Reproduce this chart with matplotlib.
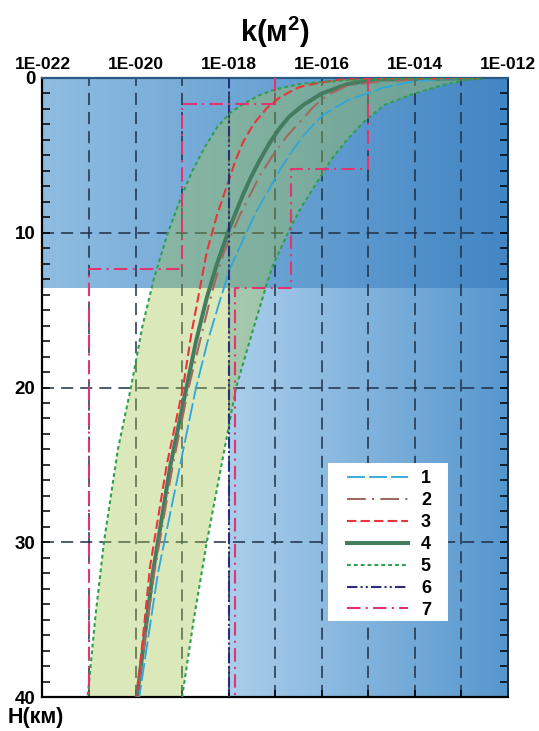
import numpy as np
import matplotlib.pyplot as plt
from matplotlib.patches import Rectangle

# шрифт: Arial-подобный, жирный
plt.rcParams['font.family'] = ['Liberation Sans', 'DejaVu Sans']
plt.rcParams['font.weight'] = 'bold'
plt.rcParams['mathtext.fontset'] = 'custom'
plt.rcParams['mathtext.rm'] = 'Liberation Sans:bold'
plt.rcParams['mathtext.default'] = 'rm'

# глубина H (км) и lg k (k в м^2)
h1 = [0, 0.05, 0.2, 0.6, 1.45, 2.4, 3.3, 4.4, 5.7, 7.0, 8.7, 9.6, 12.3, 14.4, 17, 20, 26, 32, 40]
lg1 = [-12.6, -13.3, -14.0, -14.65, -15.45, -15.98, -16.27, -16.56, -16.85, -17.1,
       -17.42, -17.56, -17.97, -18.19, -18.45, -18.7, -19.11, -19.52, -19.92]

h2 = [0, 0.05, 0.2, 0.5, 1.1, 1.87, 3.0, 3.8, 5.0, 6.3, 8.85, 11.24, 13.2, 15.2, 20, 25, 32, 40]
lg2 = [-12.6, -13.6, -14.7, -15.45, -15.88, -16.18, -16.52, -16.76, -17.05, -17.33,
       -17.76, -18.1, -18.3, -18.47, -18.86, -19.2, -19.6, -19.97]

h3 = [0, 0.03, 0.1, 0.45, 0.65, 1.23, 1.94, 3.0, 4.14, 5.3, 6.46, 8.85, 11.24, 13.3, 16.5, 20, 25, 31.6, 40]
lg3 = [-12.6, -14.5, -15.6, -16.32, -16.53, -16.89, -17.18, -17.47, -17.69, -17.85,
       -17.98, -18.25, -18.47, -18.6, -18.8, -18.98, -19.33, -19.69, -19.97]

h4 = [0, 0.05, 0.1, 0.4, 1.0, 1.75, 2.5, 3.3, 4.2, 5.3, 6.4, 7.6, 9.6, 12.0, 14.2, 17.0, 20.2, 25.0, 32.0, 40.0]
lg4 = [-12.6, -13.8, -14.9, -15.45, -16.0, -16.4, -16.7, -16.92, -17.12, -17.33,
       -17.52, -17.7, -17.97, -18.25, -18.47, -18.7, -18.92, -19.25, -19.63, -19.97]

# 5 - границы области (две кривые)
h5_lo = [0, 0.04, 0.13, 0.35, 0.74, 1.1, 1.7, 2.26, 3.2, 4.5, 6.0, 7.4, 9.95, 12.9, 16.0, 20.0, 24.0, 30.0, 35.0, 40.0]
lg5_lo = [-12.6, -14.0, -15.4, -16.4, -17.0, -17.33, -17.7, -17.97, -18.25, -18.52,
          -18.78, -18.98, -19.3, -19.6, -19.85, -20.1, -20.38, -20.68, -20.87, -21.03]
h5_hi = [0, 0.1, 0.45, 1.1, 1.74, 2.84, 4.0, 5.2, 6.5, 8.3, 9.7, 12.1, 13.3, 16.5, 20.0, 23.2, 30.0, 35.0, 40.0]
lg5_hi = [-12.6, -12.85, -13.4, -14.1, -14.65, -15.1, -15.46, -15.78, -16.05, -16.43,
          -16.68, -17.05, -17.18, -17.5, -17.84, -18.04, -18.47, -18.75, -19.0]

h6 = [0, 40]
lg6 = [-18, -18]

# 7 - ступенчатые границы
h7_lo = [0, 1.7, 1.7, 12.36, 12.36, 40]
lg7_lo = [-17, -17, -19, -19, -21, -21]
h7_hi = [0, 5.88, 5.88, 13.6, 13.6, 40]
lg7_hi = [-15, -15, -16.66, -16.66, -17.86, -17.86]

# зоны фона
upper_zone_depth = 13.6
lower_zone_left = -18

x_ticks = [-22, -20, -18, -16, -14, -12]
x_labels = ['1E-022', '1E-020', '1E-018', '1E-016', '1E-014', '1E-012']
y_ticks = [0, 10, 20, 30, 40]

fig = plt.figure(figsize=(5.39, 7.31), dpi=100)
ax = fig.add_axes([0.0788, 0.0465, 0.8636, 0.8468])
ax.set_xlim(-22, -12)
ax.set_ylim(40, 0)

# градиентный фон
ramp = np.linspace(0, 1, 256)[None, :, None]
up_l = np.array([143, 189, 225]) / 255
up_r = np.array([66, 134, 196]) / 255
lo_l = np.array([170, 206, 235]) / 255
lo_r = np.array([86, 150, 205]) / 255
ax.imshow(up_l + (up_r - up_l) * ramp, extent=[-22, -12, upper_zone_depth, 0],
          aspect='auto', interpolation='bilinear', zorder=0)
ax.imshow(lo_l + (lo_r - lo_l) * ramp, extent=[lower_zone_left, -12, 40, upper_zone_depth],
          aspect='auto', interpolation='bilinear', zorder=0)

# сетка
grid_kw = dict(color='#1f2f45', lw=1.1, ls=(0, (7.9, 4.6)), zorder=1)
for v in range(-21, -12):
    ax.axvline(v, **grid_kw)
for v in y_ticks[1:-1]:
    ax.axhline(v, **grid_kw)

# область между кривыми 5
poly_x = lg5_lo + lg5_hi[::-1]
poly_y = h5_lo + h5_hi[::-1]
ax.fill(poly_x, poly_y, color='#a2c44a', alpha=0.38, lw=0, zorder=2)

l1, = ax.plot(lg1, h1, color='#2ea6dd', lw=1.3, ls=(0, (10, 2.2)), zorder=4)
l2, = ax.plot(lg2, h2, color='#a06a60', lw=1.5, ls=(0, (9, 3, 1, 3)), zorder=4)
l3, = ax.plot(lg3, h3, color='#e8343a', lw=1.5, ls=(0, (4.5, 2)), zorder=4)
l4, = ax.plot(lg4, h4, color='#447c60', lw=2.9, zorder=3)
l5, = ax.plot(lg5_lo, h5_lo, color='#2f9e4f', lw=1.5, ls=(0, (1.8, 1.5)), zorder=4)
ax.plot(lg5_hi, h5_hi, color='#2f9e4f', lw=1.5, ls=(0, (1.8, 1.5)), zorder=4)
l6, = ax.plot(lg6, h6, color='#2b2d7c', lw=1.5, ls=(0, (5, 1.5, 1, 1.5, 1, 1.5)), zorder=4)
l7, = ax.plot(lg7_lo, h7_lo, color='#e2356f', lw=1.5, ls=(0, (6.5, 2.5, 1, 2.5)), zorder=5)
ax.plot(lg7_hi, h7_hi, color='#e2356f', lw=1.5, ls=(0, (6.5, 2.5, 1, 2.5)), zorder=5)

# оси
ax.set_xticks(x_ticks)
ax.set_xticklabels(x_labels)
ax.set_xticks(range(-21, -12, 2), minor=True)
ax.tick_params(axis='x', which='both', top=False, bottom=True, labeltop=True,
               labelbottom=False, direction='in', length=5, width=1.1,
               labelsize=12.5, pad=4)
ax.set_yticks(y_ticks)
ax.set_yticks(range(0, 41), minor=True)
ax.tick_params(axis='y', which='both', left=True, right=True, direction='in',
               length=5.8, width=1.1, labelsize=13.5, pad=5)
for t in ax.get_xticklabels() + ax.get_yticklabels():
    t.set_fontweight('bold')

ax.spines['left'].set_linewidth(1.6)
ax.spines['bottom'].set_linewidth(1.6)
ax.spines['top'].set_color('#2c5a85')
ax.spines['top'].set_linewidth(1.6)
ax.spines['right'].set_color('#1a2a3a')
ax.spines['right'].set_linewidth(1.4)

# легенда
ax.add_patch(Rectangle((0.613, 0.1228), 0.258, 0.255, transform=ax.transAxes,
                       facecolor='white', edgecolor='none', zorder=6))
leg = ax.legend([l1, l2, l3, l4, l5, l6, l7], ['1', '2', '3', '4', '5', '6', '7'],
                loc='upper left', bbox_to_anchor=(0.654, 0.366), frameon=False,
                borderpad=0, borderaxespad=0, handlelength=3.4, handletextpad=0.7,
                labelspacing=0.27, prop={'size': 13, 'weight': 'bold'})
leg.set_zorder(7)

fig.text(0.5102, 1 - 32 / 731, 'k(м$^2$)', fontsize=21, fontweight='bold',
         ha='center', va='center')
fig.text(8 / 539, 1 - 718 / 731, 'H(км)', fontsize=15.5, fontweight='bold',
         ha='left', va='center')

fig.savefig('out.png', dpi=100)
